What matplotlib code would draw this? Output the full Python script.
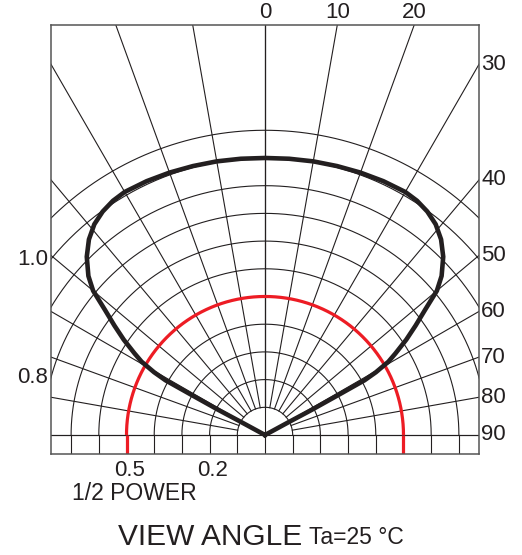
import matplotlib.pyplot as plt
import numpy as np

# radiation pattern (angle in degrees, relative intensity)
pattern_angles = [0, 5, 10, 15, 20, 25, 30, 33, 36, 39, 42, 45, 48, 50, 52, 54, 56,
                  58, 59.3, 60.5, 61.2, 61.4, 61.7, 61.5, 61.5]
pattern_values = [1.0, 1.001, 1.003, 1.005, 1.008, 1.011, 1.013, 1.008, 0.997, 0.979,
                  0.950, 0.910, 0.858, 0.810, 0.733, 0.672, 0.615, 0.555, 0.518, 0.46,
                  0.41, 0.30, 0.19, 0.10, 0.0]

half_power = 0.5
ring_values = [0.1, 0.2, 0.3, 0.4, 0.5, 0.6, 0.7, 0.8, 0.9, 1.0, 1.1]
spoke_angles = [0, 10, 20, 30, 40, 50, 60, 70, 80, 90]
top_labels = ["0", "10", "20"]
side_labels = ["30", "40", "50", "60", "70", "80", "90"]
left_ticks = [1.0, 0.8]
left_labels = ["1.0", "0.8"]
bottom_ticks = [0.5, 0.2]
bottom_labels = ["0.5", "0.2"]

GRID = "#231f20"
RED = "#ed1c24"
TEXT = "#231f20"
FONT = "Liberation Sans"

X_MAX = 0.7726
Y_MIN = -0.0686
Y_MAX = 1.480


def draw_grid(ax):
    # rings: upper half circles, then straight drops to the bottom edge
    t = np.linspace(0, np.pi, 400)
    for r in ring_values:
        ax.plot(r * np.cos(t), r * np.sin(t), color=GRID, lw=0.8)
        for sx in (-1, 1):
            ax.plot([sx * r, sx * r], [0, Y_MIN], color=GRID, lw=0.8)

    # spokes start at the inner ring
    far = 3.0
    r0 = ring_values[0]
    for a in spoke_angles:
        rad = np.deg2rad(a)
        for sx in (-1, 1):
            ax.plot([sx * r0 * np.sin(rad), sx * far * np.sin(rad)],
                    [r0 * np.cos(rad), far * np.cos(rad)], color=GRID, lw=0.8)
    ax.plot([0, 0], [Y_MIN, Y_MAX], color=GRID, lw=0.8)
    ax.plot([-X_MAX, X_MAX], [0, 0], color=GRID, lw=0.8)


def draw_labels(ax):
    kw = dict(textcoords="offset points", fontsize=16, family=FONT, color=TEXT)
    for a, lab in zip(spoke_angles[:3], top_labels):
        x = Y_MAX * np.tan(np.deg2rad(a))
        ax.annotate(lab, (x, Y_MAX), xytext=(0, 1.5), ha="center", va="bottom", **kw)
    for a, lab in zip(spoke_angles[3:], side_labels):
        y = X_MAX / np.tan(np.deg2rad(a))
        ax.annotate(lab, (X_MAX, y), xytext=(1.5, 0), ha="left", va="center", **kw)
    for v, lab in zip(left_ticks, left_labels):
        y = np.sqrt(v ** 2 - X_MAX ** 2)
        ax.annotate(lab, (-X_MAX, y), xytext=(-2, 0), ha="right", va="center", **kw)
    for v, lab in zip(bottom_ticks, bottom_labels):
        ax.annotate(lab, (-v, Y_MIN), xytext=(2, -4), ha="center", va="top", **kw)


def main():
    fig = plt.figure(figsize=(5.22, 5.55), dpi=100)
    ax = fig.add_axes([51 / 522, 101 / 555, 428 / 522, 429 / 555])
    ax.set_xlim(-X_MAX, X_MAX)
    ax.set_ylim(Y_MIN, Y_MAX)
    ax.set_xticks([])
    ax.set_yticks([])
    for sp in ax.spines.values():
        sp.set_color("#555")
        sp.set_linewidth(1.1)

    draw_grid(ax)

    t = np.linspace(0, np.pi, 400)
    ax.plot(half_power * np.cos(t), half_power * np.sin(t), color=RED, lw=2.3,
            solid_capstyle="butt")
    for sx in (-1, 1):
        ax.plot([sx * half_power] * 2, [0, Y_MIN], color=RED, lw=2.3, solid_capstyle="butt")

    ang = np.deg2rad(np.array(pattern_angles))
    val = np.array(pattern_values)
    full_ang = np.concatenate([-ang[::-1], ang[1:]])
    full_val = np.concatenate([val[::-1], val[1:]])
    ax.plot(full_val * np.sin(full_ang), full_val * np.cos(full_ang), color="#231f20",
            lw=3.3, solid_joinstyle="round")

    draw_labels(ax)

    fig.text(134 / 522, 1 - 493 / 555, "1/2 POWER", ha="center", va="center",
             fontsize=16.5, family=FONT, color=TEXT)
    fig.text(302 / 522, 1 - 537 / 555, "VIEW ANGLE", ha="right", va="center",
             fontsize=21.5, family=FONT, color=TEXT)
    fig.text(309 / 522, 1 - 538 / 555, "Ta=25 °C", ha="left", va="center",
             fontsize=16.5, family=FONT, color=TEXT)

    fig.savefig("out.png", dpi=100)
    plt.close(fig)


if __name__ == "__main__":
    main()
